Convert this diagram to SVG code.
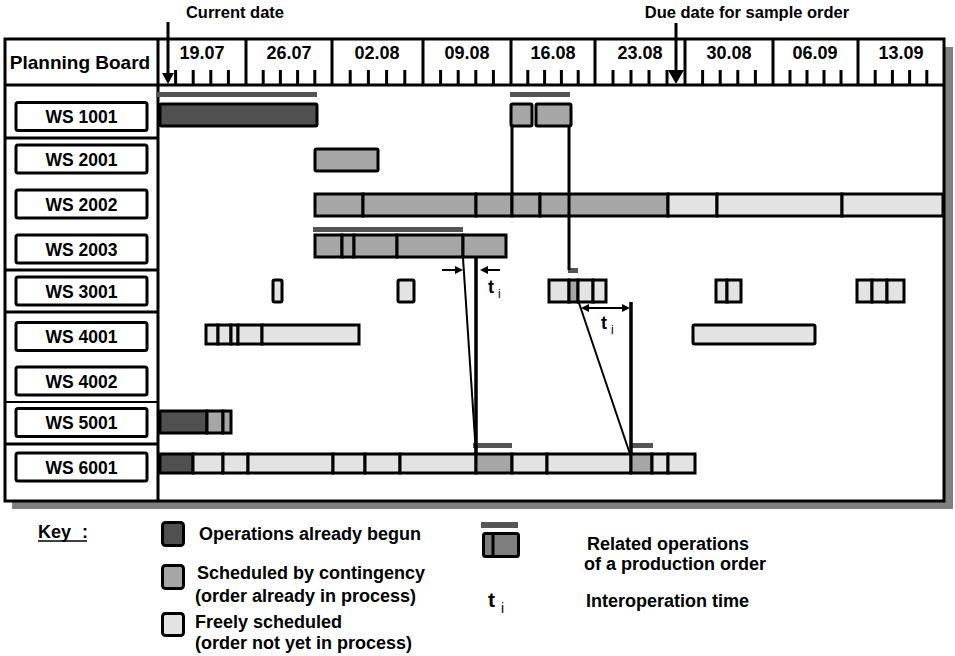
<svg xmlns="http://www.w3.org/2000/svg" width="955" height="656" viewBox="0 0 955 656">
<style>
text{font-family:"Liberation Sans",Arial,sans-serif;font-weight:bold;fill:#000}
.hd{font-size:16.5px;text-anchor:middle}
.dt{font-size:18px;text-anchor:middle}
.ws{font-size:17.5px;text-anchor:middle}
.key{font-size:18px}
.sub{font-weight:normal}
.ln{stroke:#000;stroke-width:3;fill:none}
.tk{stroke:#000;stroke-width:3}
.box{fill:#fff;stroke:#000;stroke-width:3}
.s{stroke:#000;stroke-width:3}
.d{fill:#505050}
.m{fill:#a6a6a6}
.l{fill:#e3e3e3}
.rel{fill:#555}
.thin{stroke:#000;stroke-width:2;fill:none}
</style>
<rect x="0" y="0" width="955" height="656" fill="#fff"/>
<!-- labels above -->
<text class="hd" x="235" y="18">Current date</text>
<text class="hd" x="747" y="18">Due date for sample order</text>
<!-- frame -->
<rect x="12" y="47" width="941" height="462" fill="#808080"/>
<rect x="5" y="39" width="939" height="462" class="box"/>
<line class="ln" x1="5" y1="85" x2="944" y2="85"/>
<line class="ln" x1="158" y1="39" x2="158" y2="501"/>
<text x="80" y="69" style="font-size:19px;text-anchor:middle">Planning Board</text>
<!-- header weeks -->
<g id="timeline">
<g class="tk">
<line x1="246" y1="39" x2="246" y2="85"/><line x1="332" y1="39" x2="332" y2="85"/><line x1="423" y1="39" x2="423" y2="85"/><line x1="511" y1="39" x2="511" y2="85"/><line x1="595" y1="39" x2="595" y2="85"/><line x1="685" y1="39" x2="685" y2="85"/><line x1="773" y1="39" x2="773" y2="85"/><line x1="858" y1="39" x2="858" y2="85"/>
<line x1="175.6" y1="70" x2="175.6" y2="85"/><line x1="193.2" y1="70" x2="193.2" y2="85"/><line x1="210.8" y1="70" x2="210.8" y2="85"/><line x1="228.4" y1="70" x2="228.4" y2="85"/>
<line x1="263.2" y1="70" x2="263.2" y2="85"/><line x1="280.4" y1="70" x2="280.4" y2="85"/><line x1="297.6" y1="70" x2="297.6" y2="85"/><line x1="314.8" y1="70" x2="314.8" y2="85"/>
<line x1="350.2" y1="70" x2="350.2" y2="85"/><line x1="368.4" y1="70" x2="368.4" y2="85"/><line x1="386.6" y1="70" x2="386.6" y2="85"/><line x1="404.8" y1="70" x2="404.8" y2="85"/>
<line x1="440.6" y1="70" x2="440.6" y2="85"/><line x1="458.2" y1="70" x2="458.2" y2="85"/><line x1="475.8" y1="70" x2="475.8" y2="85"/><line x1="493.4" y1="70" x2="493.4" y2="85"/>
<line x1="527.8" y1="70" x2="527.8" y2="85"/><line x1="544.6" y1="70" x2="544.6" y2="85"/><line x1="561.4" y1="70" x2="561.4" y2="85"/><line x1="578.2" y1="70" x2="578.2" y2="85"/>
<line x1="613" y1="70" x2="613" y2="85"/><line x1="631" y1="70" x2="631" y2="85"/><line x1="649" y1="70" x2="649" y2="85"/><line x1="667" y1="70" x2="667" y2="85"/>
<line x1="702.6" y1="70" x2="702.6" y2="85"/><line x1="720.2" y1="70" x2="720.2" y2="85"/><line x1="737.8" y1="70" x2="737.8" y2="85"/><line x1="755.4" y1="70" x2="755.4" y2="85"/>
<line x1="790" y1="70" x2="790" y2="85"/><line x1="807" y1="70" x2="807" y2="85"/><line x1="824" y1="70" x2="824" y2="85"/><line x1="841" y1="70" x2="841" y2="85"/>
<line x1="875.2" y1="70" x2="875.2" y2="85"/><line x1="892.4" y1="70" x2="892.4" y2="85"/><line x1="909.6" y1="70" x2="909.6" y2="85"/><line x1="926.8" y1="70" x2="926.8" y2="85"/>
</g>
<text class="dt" x="202" y="59">19.07</text>
<text class="dt" x="289" y="59">26.07</text>
<text class="dt" x="377" y="59">02.08</text>
<text class="dt" x="467" y="59">09.08</text>
<text class="dt" x="553" y="59">16.08</text>
<text class="dt" x="640" y="59">23.08</text>
<text class="dt" x="729" y="59">30.08</text>
<text class="dt" x="815" y="59">06.09</text>
<text class="dt" x="901" y="59">13.09</text>
</g>
<!-- date arrows -->
<g id="date-markers">
<line class="ln" x1="168" y1="22" x2="168" y2="75"/>
<polygon points="162,73 174,73 168,84"/>
<line class="ln" x1="676" y1="23" x2="676" y2="72"/>
<polygon points="668,70 684,70 676,84"/>
</g>
<!-- left column separators -->
<g class="ln">
<line x1="5" y1="138" x2="158" y2="138"/>
<line x1="5" y1="270" x2="158" y2="270"/>
<line x1="5" y1="312" x2="158" y2="312"/>
<line x1="5" y1="402" x2="158" y2="402" style="stroke-width:2"/>
<line x1="5" y1="444" x2="158" y2="444"/>
</g>
<!-- rows -->
<g id="ws1001">
<rect class="box" x="16" y="102.5" width="131" height="28" rx="2"/>
<text class="ws" x="81.5" y="123">WS 1001</text>
<rect class="rel" x="156" y="92" width="161" height="5"/>
<rect class="rel" x="510" y="92" width="60" height="5"/>
<rect class="s d" x="160" y="104" width="157" height="22" rx="1.5"/>
<rect class="s m" x="511" y="104" width="21" height="22" rx="1.5"/>
<rect class="s m" x="536" y="104" width="35" height="22" rx="1.5"/>
</g>
<g id="ws2001">
<rect class="box" x="16" y="145" width="131" height="28" rx="2"/>
<text class="ws" x="81.5" y="165.5">WS 2001</text>
<rect class="s m" x="315" y="149" width="63" height="22" rx="1.5"/>
</g>
<g id="ws2002">
<rect class="box" x="16" y="190" width="131" height="28" rx="2"/>
<text class="ws" x="81.5" y="210.5">WS 2002</text>
<rect class="s m" x="315" y="194" width="48" height="22"/>
<rect class="s m" x="363" y="194" width="113" height="22"/>
<rect class="s m" x="476" y="194" width="36" height="22"/>
<rect class="s m" x="512" y="194" width="28" height="22"/>
<rect class="s m" x="540" y="194" width="128" height="22"/>
<rect class="s l" x="668" y="194" width="49" height="22"/>
<rect class="s l" x="717" y="194" width="125" height="22"/>
<rect class="s l" x="842" y="194" width="101" height="22"/>
</g>
<g id="ws2003">
<rect class="box" x="16" y="235" width="131" height="28" rx="2"/>
<text class="ws" x="81.5" y="255.5">WS 2003</text>
<rect class="rel" x="313" y="227" width="150" height="5"/>
<rect class="s m" x="315" y="235" width="27" height="22"/>
<rect class="s m" x="342" y="235" width="12" height="22"/>
<rect class="s m" x="354" y="235" width="43" height="22"/>
<rect class="s m" x="397" y="235" width="66" height="22"/>
<rect class="s m" x="463" y="235" width="43" height="22"/>
</g>
<g id="ws3001">
<rect class="box" x="16" y="277" width="131" height="28" rx="2"/>
<text class="ws" x="81.5" y="297.5">WS 3001</text>
<rect class="rel" x="568" y="268" width="10" height="5"/>
<rect class="s l" x="273" y="280" width="9" height="22" rx="1.5"/>
<rect class="s l" x="398" y="280" width="16" height="22" rx="1.5"/>
<rect class="s l" x="549" y="280" width="20" height="22"/>
<rect class="s m" x="569" y="280" width="9" height="22"/>
<rect class="s l" x="578" y="280" width="15" height="22"/>
<rect class="s l" x="593" y="280" width="13" height="22"/>
<rect class="s l" x="716" y="280" width="11" height="22"/>
<rect class="s l" x="727" y="280" width="14" height="22"/>
<rect class="s l" x="857" y="280" width="15" height="22"/>
<rect class="s l" x="872" y="280" width="15" height="22"/>
<rect class="s l" x="887" y="280" width="17" height="22"/>
</g>
<g id="ws4001">
<rect class="box" x="16" y="322.5" width="131" height="28" rx="2"/>
<text class="ws" x="81.5" y="343">WS 4001</text>
<rect class="s l" x="206" y="325" width="12" height="19"/>
<rect class="s l" x="218" y="325" width="13" height="19"/>
<rect class="s l" x="231" y="325" width="7" height="19"/>
<rect class="s l" x="238" y="325" width="24" height="19"/>
<rect class="s l" x="262" y="325" width="97" height="19"/>
<rect class="s l" x="693" y="325" width="122" height="19" rx="1.5"/>
</g>
<g id="ws4002">
<rect class="box" x="16" y="367" width="131" height="28" rx="2"/>
<text class="ws" x="81.5" y="387.5">WS 4002</text>
</g>
<g id="ws5001">
<rect class="box" x="16" y="408.5" width="131" height="28" rx="2"/>
<text class="ws" x="81.5" y="429">WS 5001</text>
<rect class="s d" x="160" y="411" width="47" height="22"/>
<rect class="s m" x="207" y="411" width="16" height="22"/>
<rect class="s m" x="223" y="411" width="8" height="22"/>
</g>
<g id="ws6001">
<rect class="box" x="16" y="453" width="131" height="28" rx="2"/>
<text class="ws" x="81.5" y="473.5">WS 6001</text>
<rect class="rel" x="473" y="443" width="39" height="5"/>
<rect class="rel" x="632" y="443" width="21" height="5"/>
<rect class="s d" x="160" y="454" width="33" height="19"/>
<rect class="s l" x="193" y="454" width="30" height="19"/>
<rect class="s l" x="223" y="454" width="25" height="19"/>
<rect class="s l" x="248" y="454" width="85" height="19"/>
<rect class="s l" x="333" y="454" width="32" height="19"/>
<rect class="s l" x="365" y="454" width="35" height="19"/>
<rect class="s l" x="400" y="454" width="76" height="19"/>
<rect class="s m" x="476" y="454" width="36" height="19"/>
<rect class="s l" x="512" y="454" width="35" height="19"/>
<rect class="s l" x="547" y="454" width="84" height="19"/>
<rect class="s m" x="631" y="454" width="21" height="19"/>
<rect class="s l" x="652" y="454" width="16" height="19"/>
<rect class="s l" x="668" y="454" width="27" height="19"/>
</g>
<!-- connectors -->
<g id="connectors">
<line class="ln" x1="512" y1="127" x2="512" y2="194"/>
<line class="ln" x1="569" y1="127" x2="569" y2="270"/>
<line class="thin" x1="463" y1="258" x2="476" y2="454"/>
<line class="ln" x1="476" y1="258" x2="476" y2="455" style="stroke-width:3.5"/>
<line class="thin" x1="579" y1="303" x2="630" y2="454"/>
<line class="ln" x1="631" y1="302" x2="631" y2="455" style="stroke-width:3.5"/>
<line class="thin" x1="442" y1="270" x2="456" y2="270"/>
<polygon points="455,266 463,270 455,274"/>
<line class="thin" x1="500" y1="270" x2="487" y2="270"/>
<polygon points="488,266 480,270 488,274"/>
<line class="thin" x1="586" y1="308" x2="625" y2="308"/>
<polygon points="589,304 581,308 589,312"/>
<polygon points="622,304 630,308 622,312"/>
<text x="488" y="293" style="font-size:18px">t</text><text class="sub" x="498" y="298" style="font-size:12px">i</text>
<text x="601" y="329" style="font-size:18px">t</text><text class="sub" x="611" y="334" style="font-size:12px">i</text>
</g>
<!-- key -->
<g id="key">
<text x="38" y="538" style="font-size:18px">Key<tspan dx="6"> :</tspan></text>
<line x1="38" y1="541" x2="87" y2="541" stroke="#000" stroke-width="1.5"/>
<rect class="s d" x="162.5" y="522.5" width="21" height="23" rx="3"/>
<text class="key" x="199" y="540">Operations already begun</text>
<rect class="s m" x="162.5" y="565.5" width="21" height="23" rx="3"/>
<text class="key" x="197" y="579">Scheduled by contingency</text>
<text class="key" x="195" y="602">(order already in process)</text>
<rect class="s l" x="162.5" y="613.5" width="21" height="22" rx="3"/>
<text class="key" x="195" y="628">Freely scheduled</text>
<text class="key" x="195" y="649">(order not yet in process)</text>
<rect class="rel" x="481" y="522" width="37" height="6"/>
<rect class="s" x="483.5" y="533.5" width="35" height="23" rx="2" fill="#7f7f7f"/>
<line class="tk" x1="493" y1="533" x2="493" y2="557"/>
<text class="key" x="587" y="550">Related operations</text>
<text class="key" x="584" y="570">of a production order</text>
<text x="488" y="607" style="font-size:21px">t</text><text class="sub" x="501" y="613" style="font-size:14px">i</text>
<text class="key" x="586" y="607">Interoperation time</text>
</g>
</svg>
